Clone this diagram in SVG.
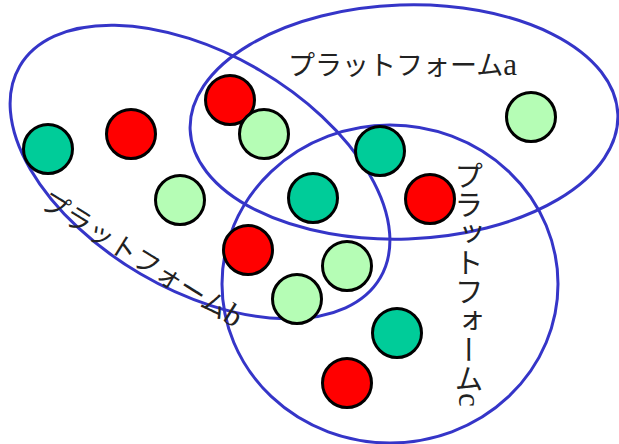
<svg xmlns="http://www.w3.org/2000/svg" width="619" height="444" viewBox="0 0 619 444">
<style>
.set{fill:none;stroke:#3535C8;stroke-width:3}
.dot{stroke:#000;stroke-width:3}
.r{fill:#FF0000}
.t{fill:#00CC99}
.g{fill:#B5FDB5}
.lbl{font-family:"Noto Sans CJK JP","Noto Sans",sans-serif;fill:#222}
.lat{font-family:"Liberation Serif",serif}
</style>
<rect width="619" height="444" fill="#fff"/>
<g id="connectors">
<ellipse id="set-b" class="set" cx="200" cy="172" rx="209" ry="118" transform="rotate(30.4 200 172)"/>
<ellipse id="set-a" class="set" cx="404" cy="122" rx="214" ry="117" transform="rotate(-2 404 122)"/>
<ellipse id="set-c" class="set" cx="390" cy="284" rx="168" ry="159"/>
</g>
<g id="node-1"><circle class="dot t" cx="48" cy="149" r="24.5"/></g>
<g id="node-2"><circle class="dot r" cx="131" cy="134" r="24.5"/></g>
<g id="node-3"><circle class="dot r" cx="230" cy="100" r="24.5"/></g>
<g id="node-4"><circle class="dot g" cx="264" cy="134" r="24.5"/></g>
<g id="node-5"><circle class="dot g" cx="180" cy="200" r="24.5"/></g>
<g id="node-6"><circle class="dot t" cx="313" cy="198" r="24.5"/></g>
<g id="node-7"><circle class="dot t" cx="380" cy="151" r="24.5"/></g>
<g id="node-8"><circle class="dot r" cx="430" cy="199" r="24.5"/></g>
<g id="node-9"><circle class="dot g" cx="531" cy="117" r="24.5"/></g>
<g id="node-10"><circle class="dot r" cx="248" cy="250" r="24.5"/></g>
<g id="node-11"><circle class="dot g" cx="347" cy="266" r="24.5"/></g>
<g id="node-12"><circle class="dot g" cx="297" cy="299" r="24.5"/></g>
<g id="node-13"><circle class="dot t" cx="397" cy="333" r="24.5"/></g>
<g id="node-14"><circle class="dot r" cx="347" cy="383" r="24.5"/></g>
<g id="label-a"><text class="lbl" x="288" y="75" font-size="27">プラットフォーム<tspan class="lat" font-size="31">a</tspan></text></g>
<g id="label-b"><text class="lbl" font-size="27" transform="translate(38.5 206.5) rotate(31.8)">プラットフォーム<tspan class="lat" font-size="31">b</tspan></text></g>
<g id="label-c"><text class="lbl" x="469" y="161" font-size="29" style="writing-mode:vertical-rl">プラットフォーム<tspan class="lat" font-size="31">c</tspan></text></g>
</svg>
